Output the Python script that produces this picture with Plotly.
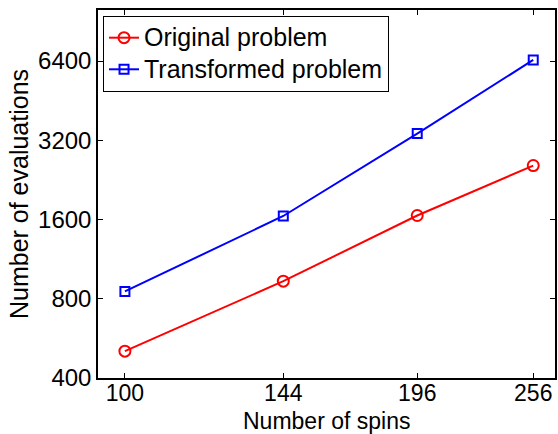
import plotly.graph_objects as go
import math

spins = [100, 144, 196, 256]
original = [506, 933, 1657, 2565]
transformed = [853, 1650, 3393, 6462]
y_ticks = [400, 800, 1600, 3200, 6400]
series_names = ["Original problem", "Transformed problem"]

FONT = "Liberation Sans, Arial, sans-serif"

def big(t):
    return '<span style="font-size:25px">' + t + '</span>'

fig = go.Figure()
fig.add_trace(go.Scatter(
    x=spins, y=original, mode="lines+markers", name=big(series_names[0]),
    line=dict(color="#ff0000", width=2),
    marker=dict(symbol="circle-open", size=11, color="#ff0000", line=dict(width=2)),
))
fig.add_trace(go.Scatter(
    x=spins, y=transformed, mode="lines+markers", name=big(series_names[1]),
    line=dict(color="#0000ff", width=2),
    marker=dict(symbol="square-open", size=9, color="#0000ff", line=dict(width=2)),
))

fig.update_layout(
    width=558, height=434,
    margin=dict(l=98, r=1, t=10, b=56),
    paper_bgcolor="white", plot_bgcolor="white",
    font=dict(family=FONT, size=24, color="black"),
    showlegend=True,
    legend=dict(
        x=0.011, y=0.984, xanchor="left", yanchor="top",
        bgcolor="white", bordercolor="black", borderwidth=1,
        font=dict(family=FONT, size=22, color="black"),
        tracegroupgap=0, itemwidth=30,
    ),
    annotations=[dict(
        text="Number of spins", xref="paper", yref="paper",
        x=0.5, y=(378 - 406.5) / 368, xanchor="center", yanchor="top",
        borderpad=0, showarrow=False,
        font=dict(family=FONT, size=23, color="black"),
    )],
)
fig.update_xaxes(
    type="log", range=[1.9731, 2.4300],
    tickvals=spins, ticktext=[str(s) for s in spins],
    tickfont=dict(size=23), ticklabelstandoff=-6,
    ticks="inside", ticklen=5, tickcolor="black", tickwidth=1,
    showline=True, linecolor="black", linewidth=1.5, mirror="ticks",
    showgrid=False, zeroline=False,
)
fig.update_yaxes(
    type="log", range=[math.log10(400), 4.0],
    tickvals=y_ticks, ticktext=[str(v) for v in y_ticks],
    tickfont=dict(size=24),
    ticks="inside", ticklen=5, tickcolor="black", tickwidth=1,
    showline=True, linecolor="black", linewidth=1.5, mirror="ticks",
    showgrid=False, zeroline=False,
    title=dict(text="Number of evaluations", standoff=2, font=dict(size=25)),
)

fig.write_html("out.html")
